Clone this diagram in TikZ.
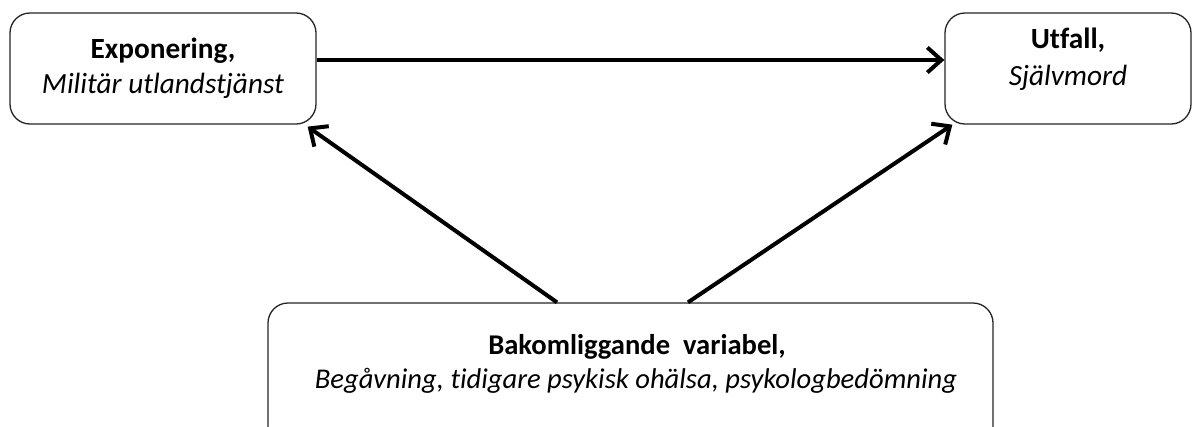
\documentclass[tikz,border=0pt]{standalone}
\usepackage{fontspec}
\setmainfont{Carlito}[Ligatures=NoCommon]
\usetikzlibrary{arrows.meta}
\begin{document}
\begin{tikzpicture}[x=1pt,y=-1pt,
  boxstyle/.style={draw=black!85,line width=1.3pt,rounded corners=20pt,inner sep=0pt},
  bf/.style={anchor=base,inner sep=0pt,font=\fontsize{29.3}{34}\selectfont\bfseries},
  itx/.style={anchor=base,inner sep=0pt,font=\fontsize{29.3}{34}\selectfont\itshape},
  bfs/.style={bf,font=\fontsize{28.6}{33}\selectfont\bfseries},
  itxs/.style={itx,font=\fontsize{28.6}{33}\selectfont\itshape},
  arr/.style={line width=4pt,-{Straight Barb[length=14pt,width=25pt,line width=4pt]}}]
\useasboundingbox (0,0) rectangle (1193,426);
\fill[white] (0,0) rectangle (1193,426);
\node[boxstyle,minimum width=306pt,minimum height=111pt] (expo) at (163,68.5) {};
\node[boxstyle,minimum width=246pt,minimum height=111pt] (utf) at (1068,68.5) {};
\node[boxstyle,minimum width=725pt,minimum height=150pt] (bak) at (630.5,378) {};
\node[bf] (t1) at (163,58) {Exponering,};
\node[itx] (t2) at (163,93) {Militär utlandstjänst};
\node[bf] (t3) at (1068,48) {Utfall,};
\node[itx] (t4) at (1068,85) {Självmord};
\node[bfs] (t5) at (637,354) {Bakomliggande\ \ variabel,};
\node[itxs] (t6) at (636,388) {Begåvning, tidigare psykisk ohälsa, psykologbedömning};
\draw[arr] ([yshift=8.5pt]expo.east) -- ([yshift=8.5pt]utf.west);
\draw[arr] ([xshift=-73.5pt]bak.north) -- ([xshift=-9pt,yshift=-2pt]expo.south east);
\draw[arr] ([xshift=57.5pt]bak.north) -- ([xshift=8pt]utf.south west);
\end{tikzpicture}
\end{document}
